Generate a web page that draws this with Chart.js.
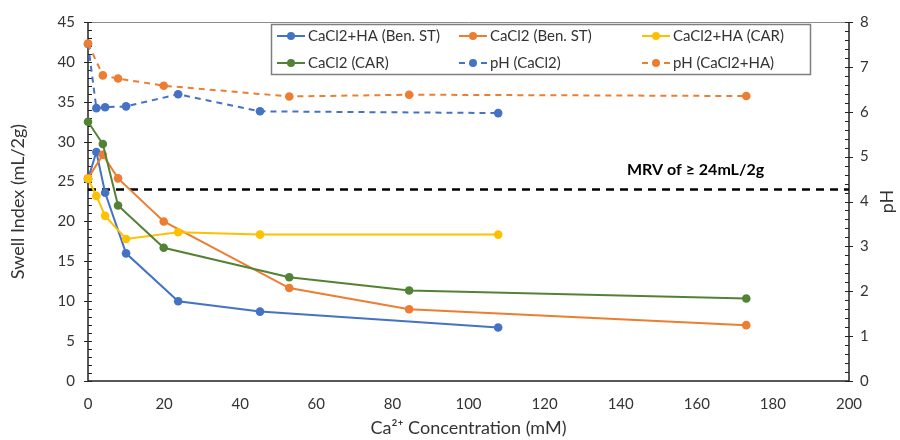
<!DOCTYPE html>
<html lang="en">
<head>
<meta charset="UTF-8">
<title>Swell Index vs Ca2+ Concentration</title>
<script src="https://cdn.jsdelivr.net/npm/chart.js@4.4.3/dist/chart.umd.min.js"></script>
<style>
  html, body { margin: 0; padding: 0; background: #fff; }
  #wrap { width: 900px; height: 440px; }
</style>
</head>
<body>
<div id="wrap"><canvas id="mychart" width="900" height="440"></canvas></div>
<script>
// x positions (mM) of the two measurement sets
const concHA = [0, 2.2, 4.5, 10, 23.7, 45.2, 107.8];
const concCa = [0, 3.9, 7.9, 19.9, 52.9, 84.4, 173];

// swell index (mL/2g), left axis
const swellHABen = [25.3, 28.7, 23.6, 16.0, 10.0, 8.7, 6.7];
const swellCaBen = [25.4, 28.35, 25.4, 20.0, 11.65, 9.0, 7.0];
const swellHACar = [25.35, 23.2, 20.7, 17.8, 18.65, 18.35, 18.35];
const swellCaCar = [32.5, 29.7, 22.0, 16.7, 13.0, 11.35, 10.35];

// pH, right axis
const phCa = [7.51, 6.08, 6.10, 6.12, 6.39, 6.01, 5.97];
const phCaHA = [7.52, 6.81, 6.74, 6.58, 6.34, 6.38, 6.35];

// MRV reference line
const mrvX = [0, 200];
const mrvY = [24, 24];

const xTicks = [0, 20, 40, 60, 80, 100, 120, 140, 160, 180, 200];

const FONT = 'Lato, "Open Sans", sans-serif';
const TXT = '#333333';

function pts(xs, ys) {
    return xs.map((x, i) => ({ x: x, y: ys[i] }));
}

function series(label, xs, ys, color, axis, dashed, order) {
    return {
        label: label,
        data: pts(xs, ys),
        borderColor: color,
        backgroundColor: color,
        borderWidth: 2,
        borderDash: dashed ? [6, 5] : [],
        pointRadius: 4.3,
        pointHoverRadius: 4.3,
        pointBorderWidth: 0,
        tension: 0,
        fill: false,
        clip: false,
        yAxisID: axis,
        order: order
    };
}

const datasets = [
    series('CaCl2+HA (Ben. ST)', concHA, swellHABen, '#4472C4', 'y', false, 10),
    series('CaCl2 (Ben. ST)', concCa, swellCaBen, '#ED7D31', 'y', false, 9),
    series('CaCl2+HA (CAR)', concHA, swellHACar, '#FFC000', 'y', false, 8),
    series('CaCl2 (CAR)', concCa, swellCaCar, '#548235', 'y', false, 7),
    series('pH (CaCl2)', concHA, phCa, '#4472C4', 'y1', true, 6),
    series('pH (CaCl2+HA)', concCa, phCaHA, '#ED7D31', 'y1', true, 5),
    {
        label: 'MRV',
        data: pts(mrvX, mrvY),
        borderColor: '#000',
        borderWidth: 2.5,
        borderDash: [8, 6],
        pointRadius: 0,
        fill: false,
        yAxisID: 'y',
        order: 20
    }
];

// frame + ticks go under the lines, legend and texts on top
const decorPlugin = {
    id: 'decor',
    beforeDatasetsDraw(chart) {
        const ctx = chart.ctx;
        const a = chart.chartArea;
        const yL = chart.scales.y;
        const yR = chart.scales.y1;
        ctx.save();

        ctx.lineWidth = 1;
        ctx.strokeStyle = '#8c8c8c';
        ctx.beginPath();
        ctx.moveTo(a.left, a.top + 0.5);
        ctx.lineTo(a.right, a.top + 0.5);
        ctx.stroke();
        ctx.strokeStyle = '#222';
        ctx.lineWidth = 1.5;
        ctx.beginPath();
        ctx.moveTo(a.left, a.top);
        ctx.lineTo(a.left, a.bottom);
        ctx.lineTo(a.right, a.bottom);
        ctx.lineTo(a.right, a.top);
        ctx.stroke();

        // ticks on left axis (major every 5, minor every 1)
        ctx.lineWidth = 1;
        for (let v = 0; v <= 45; v++) {
            const y = Math.round(yL.getPixelForValue(v)) + 0.5;
            ctx.beginPath();
            ctx.moveTo(v % 5 === 0 ? a.left - 4 : a.left, y);
            ctx.lineTo(a.left + 4, y);
            ctx.stroke();
        }
        // ticks on right axis (major every 1, minor every 0.2)
        for (let i = 0; i <= 40; i++) {
            const y = Math.round(yR.getPixelForValue(i / 5)) + 0.5;
            ctx.beginPath();
            ctx.moveTo(a.right - 4, y);
            ctx.lineTo(i % 5 === 0 ? a.right + 4 : a.right, y);
            ctx.stroke();
        }
        ctx.restore();
    },
    afterDraw(chart) {
        const ctx = chart.ctx;
        const a = chart.chartArea;
        const yL = chart.scales.y;
        ctx.save();

        // right axis title
        ctx.fillStyle = TXT;
        ctx.font = '18px ' + FONT;
        ctx.textAlign = 'center';
        ctx.textBaseline = 'middle';
        ctx.save();
        ctx.translate(887, (a.top + a.bottom) / 2);
        ctx.rotate(-Math.PI / 2);
        ctx.fillText('pH', 0, 0);
        ctx.restore();

        // MRV label
        ctx.fillStyle = '#000';
        ctx.font = 'bold 16px ' + FONT;
        ctx.textAlign = 'left';
        ctx.fillText('MRV of \u2265 24mL/2g', 627, yL.getPixelForValue(24) - 20);

        // legend
        const box = { x: 271.5, y: 24.5, w: 539, h: 50 };
        ctx.fillStyle = '#fff';
        ctx.fillRect(box.x, box.y, box.w, box.h);
        ctx.strokeStyle = '#7f7f7f';
        ctx.lineWidth = 1.5;
        ctx.strokeRect(box.x, box.y, box.w, box.h);
        const colX = [277, 459, 642];
        const rowY = [36, 63];
        ctx.font = '15px ' + FONT;
        for (let i = 0; i < 6; i++) {
            const ds = chart.data.datasets[i];
            const x = colX[i % 3];
            const y = rowY[Math.floor(i / 3)];
            ctx.strokeStyle = ds.borderColor;
            ctx.lineWidth = 2;
            ctx.setLineDash(ds.borderDash.length ? [6, 5] : []);
            ctx.beginPath();
            ctx.moveTo(x, y);
            ctx.lineTo(x + 28, y);
            ctx.stroke();
            ctx.setLineDash([]);
            ctx.fillStyle = ds.borderColor;
            ctx.beginPath();
            ctx.arc(x + 14, y, 4, 0, Math.PI * 2);
            ctx.fill();
            ctx.fillStyle = TXT;
            ctx.textAlign = 'left';
            ctx.fillText(ds.label, x + 31, y);
        }
        ctx.restore();
    }
};

const config = {
    type: 'line',
    data: { datasets: datasets },
    options: {
        responsive: false,
        animation: false,
        layout: { padding: { top: 17, right: 0, left: 0, bottom: 0 } },
        plugins: {
            legend: { display: false },
            tooltip: { enabled: false }
        },
        scales: {
            x: {
                type: 'linear',
                min: 0,
                max: 200,
                afterBuildTicks: (s) => { s.ticks = xTicks.map(v => ({ value: v })); },
                afterFit: (s) => { s.height = 59; },
                grid: { display: false, drawTicks: false },
                border: { display: false },
                ticks: { color: TXT, font: { family: FONT, size: 15 }, padding: 14, maxRotation: 0 },
                title: {
                    display: true,
                    text: 'Ca\u00b2\u207a Concentration (mM)',
                    color: TXT,
                    font: { family: FONT, size: 18 },
                    padding: { top: 0, bottom: 1 }
                }
            },
            y: {
                position: 'left',
                min: 0,
                max: 45,
                ticks: { stepSize: 5, color: TXT, font: { family: FONT, size: 15 }, padding: 13 },
                afterFit: (s) => { s.width = 88; },
                grid: { display: false, drawTicks: false },
                border: { display: false },
                title: {
                    display: true,
                    text: 'Swell Index (mL/2g)',
                    color: TXT,
                    font: { family: FONT, size: 18 },
                    padding: { top: 7, bottom: 0 }
                }
            },
            y1: {
                position: 'right',
                min: 0,
                max: 8,
                ticks: { stepSize: 1, color: TXT, font: { family: FONT, size: 15 }, padding: 11 },
                afterFit: (s) => { s.width = 51; },
                grid: { display: false, drawTicks: false },
                border: { display: false }
            }
        }
    },
    plugins: [decorPlugin]
};

var mychart = new Chart(document.getElementById('mychart'), config);
</script>
</body>
</html>
